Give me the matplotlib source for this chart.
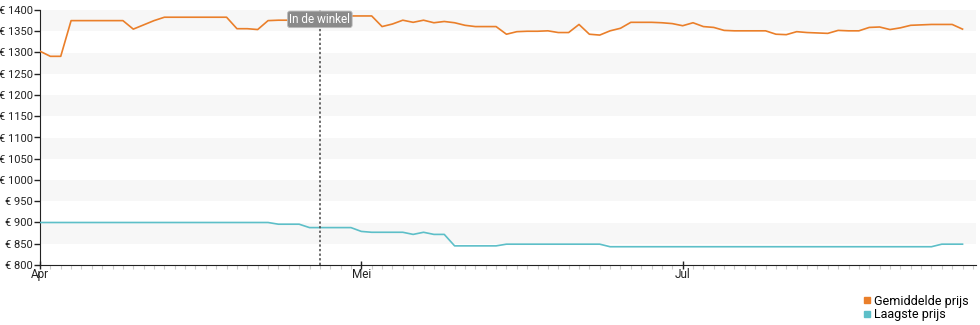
import numpy as np
import matplotlib.pyplot as plt
from matplotlib.lines import Line2D

plt.rcParams['font.family'] = ['Roboto', 'DejaVu Sans']

# gemiddelde prijs per dag (index 0 = 1 april)
gemiddeld = [1303, 1291, 1291, 1375, 1375, 1375, 1375, 1375, 1375, 1355,
             1365, 1375, 1383, 1383, 1383, 1383, 1383, 1383, 1383, 1356,
             1356, 1354, 1375, 1376, 1376, 1377, 1377, 1378, 1378, 1380,
             1386, 1386, 1386, 1361, 1367, 1376, 1371, 1376, 1370, 1373,
             1370, 1364, 1361, 1361, 1361, 1343, 1349, 1350, 1350, 1351,
             1347, 1347, 1366, 1343, 1341, 1351, 1357, 1371, 1371, 1371,
             1370, 1368, 1363, 1370, 1361, 1359, 1352, 1351, 1351, 1351,
             1351, 1343, 1342, 1349, 1347, 1346, 1345, 1352, 1351, 1351,
             1359, 1360, 1354, 1358, 1364, 1365, 1366, 1366, 1366, 1355]

laagste = [900] * 23 + [896, 896, 896, 888, 888, 888, 888, 888, 879,
           877, 877, 877, 877, 872, 877, 872, 872,
           845, 845, 845, 845, 845] + [849] * 10 + [843] * 32 + [849, 849, 849]

maand_pos = [0, 31, 62]
maand_labels = ['Apr', 'Mei', 'Jul']
winkel_idx = 27

oranje = '#ea7f2a'
turkoois = '#5dbfc8'

fig = plt.figure(figsize=(9.8, 3.25), dpi=100)
ax = fig.add_axes([40 / 980, 60 / 325, 936 / 980, 255 / 325])

x = np.arange(len(gemiddeld))

# grijze banden
for lo in range(850, 1400, 100):
    ax.axhspan(lo, lo + 50, color='#f7f7f7', zorder=0, lw=0)

ax.plot(x, gemiddeld, color=oranje, lw=1.2, zorder=3)
ax.plot(np.arange(len(laagste)), laagste, color=turkoois, lw=1.2, zorder=3)

ax.axvline(winkel_idx, color='#444444', lw=1.1, ls=(0, (1.5, 1.5)), zorder=4)
ax.text(winkel_idx, 1378, 'In de winkel', ha='center', va='center', color='white',
        fontsize=8.5, zorder=5,
        bbox=dict(boxstyle='round,pad=0.15,rounding_size=0.2', fc='#8a8a8a', ec='#bbbbbb', lw=0.6))

ax.set_xlim(0, 90.3)
ax.set_ylim(800, 1400)
ax.set_yticks(np.arange(800, 1401, 50))
ax.set_yticklabels([f'€ {v}' for v in range(800, 1401, 50)])
ax.set_xticks(maand_pos)
ax.set_xticklabels(maand_labels)
ax.set_xticks(np.arange(0, 91), minor=True)

for s in ['top', 'right']:
    ax.spines[s].set_visible(False)
ax.spines['left'].set_color('#222222')
ax.spines['bottom'].set_color('#222222')

ax.tick_params(axis='y', length=4, width=1, colors='#222222', labelsize=8, pad=1)
ax.tick_params(axis='x', which='major', direction='inout', length=6, width=1,
               colors='#222222', labelsize=8.5, pad=-1)
ax.tick_params(axis='x', which='minor', length=3, width=0.8, color='#cccccc')

handles = [Line2D([], [], ls='none', marker='s', ms=5, color=oranje),
           Line2D([], [], ls='none', marker='s', ms=5, color=turkoois)]
fig.legend(handles, ['Gemiddelde prijs', 'Laagste prijs'], loc='lower right',
           bbox_to_anchor=(0.997, -0.015), frameon=False, fontsize=9,
           handlelength=0.6, handletextpad=0.2, labelspacing=0.05, borderpad=0.2)

fig.savefig('out.png', dpi=100)
